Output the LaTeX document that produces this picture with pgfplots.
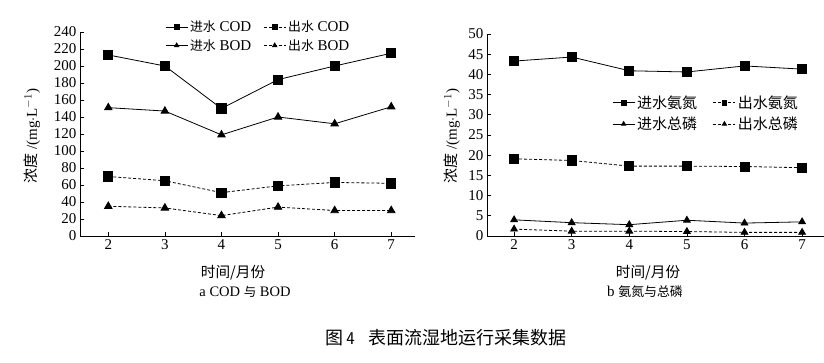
\documentclass[border=0pt]{standalone}
\usepackage{fontspec}
\setmainfont{Liberation Serif}
\newfontfamily\cjk[Scale=0.86]{Noto Sans CJK SC}
\newfontfamily\cjkc{Noto Sans CJK SC}
\usepackage{pgfplots}
\pgfplotsset{compat=1.18}
\pgfplotsset{
  mystyle/.style={
    anchor=south west, scale only axis,
    axis x line*=bottom, axis y line*=left,
    axis line style={line width=0.8pt},
    tick align=inside, major tick length=4pt,
    tick style={black, line width=0.7pt},
    xtick={2,3,4,5,6,7},
    /pgf/number format/assume math mode=true,
    ticklabel style={font=\fontsize{15}{15}\selectfont},
    xlabel={\cjk 时间/月份},
    xlabel style={font=\fontsize{17}{17}\selectfont, anchor=center},
    ylabel={{\cjkc 浓度} /(mg$\cdot$L$^{-1}$)},
    ylabel style={font=\fontsize{15}{15}\selectfont, anchor=center, rotate=0},
    legend style={draw=none, fill=none, inner sep=0pt, row sep=2pt,
      font=\fontsize{15}{15}\selectfont, legend cell align=left,
      /tikz/every even column/.append style={column sep=10pt}},
    legend columns=2,
    legend image code/.code={\draw[mark repeat=2,mark phase=2,##1,mark size=2.4pt] plot coordinates {(0pt,0pt) (11pt,0pt) (22pt,0pt)};},
    every axis plot/.append style={black, line width=0.8pt},
  },
  inS/.style={solid, mark=square*, mark size=4.6pt, mark options={solid}},
  outS/.style={dash pattern=on 3pt off 2pt, mark=square*, mark size=4.6pt, mark options={solid}},
  inT/.style={solid, mark=triangle*, mark size=4.3pt, mark options={solid}},
  outT/.style={dash pattern=on 3pt off 2pt, mark=triangle*, mark size=4.3pt, mark options={solid}},
}
\begin{document}
\begin{tikzpicture}[x=1pt,y=1pt]
\path[use as bounding box] (0,0) rectangle (824,-363);
\begin{axis}[mystyle, at={(80pt,-236pt)}, width=335pt, height=204pt,
  xmin=1.5, xmax=7.42, ymin=0, ymax=240, ytick={0,20,...,240},
  xlabel style={at={(axis description cs:0.457,-0.181)}},
  ylabel style={at={(axis description cs:-0.143,0.49)}},
  legend style={at={(axis description cs:0.254,1.065)}, anchor=north west}]
\addplot[inS] coordinates {(2,213) (3,200) (4,150) (5,184) (6,200) (7,215)};
\addlegendentry{{\cjk 进水} COD}
\addplot[outS] coordinates {(2,70) (3,65) (4,51) (5,59) (6,63) (7,62)};
\addlegendentry{{\cjk 出水} COD}
\addplot[inT] coordinates {(2,151) (3,147) (4,119) (5,140) (6,132) (7,152)};
\addlegendentry{{\cjk 进水} BOD}
\addplot[outT] coordinates {(2,35) (3,33) (4,24) (5,34) (6,30) (7,30)};
\addlegendentry{{\cjk 出水} BOD}
\end{axis}
\begin{axis}[mystyle, at={(487pt,-236pt)}, width=337pt, height=202pt,
  xmin=1.53, xmax=7.38, ymin=0, ymax=50, ytick={0,5,...,50},
  xlabel style={at={(axis description cs:0.478,-0.183)}},
  ylabel style={at={(axis description cs:-0.104,0.495)}},
  legend style={at={(axis description cs:0.371,0.705)}, anchor=north west,
    row sep=3pt, /tikz/every even column/.append style={column sep=14pt}}]
\addplot[inS] coordinates {(2,43.3) (3,44.3) (4,40.9) (5,40.6) (6,42.1) (7,41.3)};
\addlegendentry{\cjkc 进水氨氮}
\addplot[outS] coordinates {(2,19.1) (3,18.7) (4,17.3) (5,17.3) (6,17.2) (7,16.9)};
\addlegendentry{\cjkc 出水氨氮}
\addplot[inT, mark size=3.9pt] coordinates {(2,4.0) (3,3.3) (4,2.8) (5,3.9) (6,3.2) (7,3.5)};
\addlegendentry{\cjkc 进水总磷}
\addplot[outT, mark size=3.9pt] coordinates {(2,1.7) (3,1.2) (4,1.2) (5,1.1) (6,0.9) (7,0.9)};
\addlegendentry{\cjkc 出水总磷}
\end{axis}
\node[font=\fontsize{14.5}{14.5}\selectfont] at (245,-292) {a COD {\cjk 与} BOD};
\node[font=\fontsize{15}{15}\selectfont] at (645,-292) {b {\cjk 氨氮与总磷}};
\node[font=\fontsize{18}{18}\selectfont] at (446,-338) {{\cjkc 图}\,{\sffamily 4}\hspace{14pt}{\cjkc 表面流湿地运行采集数据}};
\end{tikzpicture}
\end{document}
